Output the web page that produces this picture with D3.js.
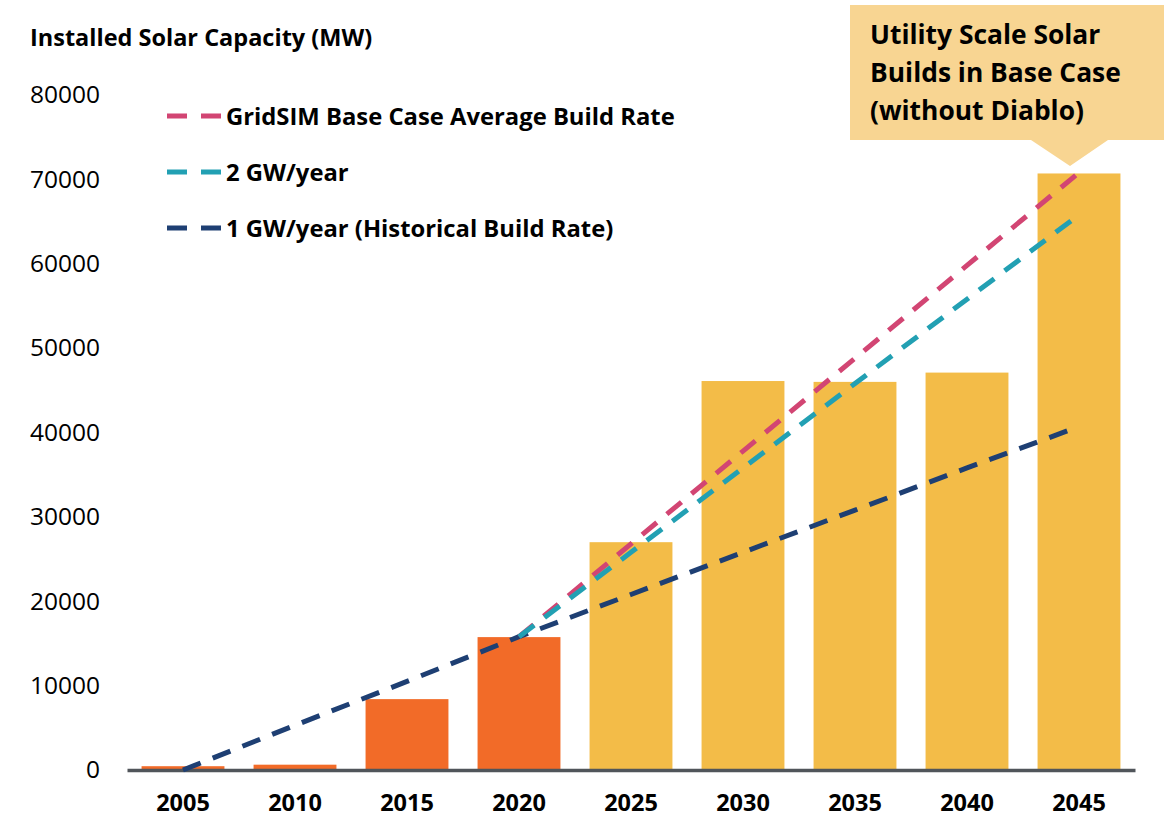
<!DOCTYPE html>
<html>
<head>
<meta charset="utf-8">
<script src="https://cdn.jsdelivr.net/npm/d3@7"></script>
<style>
  body { margin: 0; background: #fff; }
  svg text { font-family: "Open Sans", Lato, sans-serif; }
</style>
</head>
<body>
<div class="chart"></div>
<script>
// data
var years = ["2005", "2010", "2015", "2020", "2025", "2030", "2035", "2040", "2045"];
var capacity = [450, 630, 8400, 15750, 27000, 46100, 46000, 47100, 70700];
var historical = ["2005", "2010", "2015", "2020"];   // orange bars, rest are base case builds
var yTicks = [0, 10000, 20000, 30000, 40000, 50000, 60000, 70000, 80000];

var lineYears = ["2005", "2010", "2015", "2020", "2025", "2030", "2035", "2040", "2045"];
var oneGW = [0, 5300, 10500, 15800, 20800, 25800, 30800, 35800, 40700];
var trendYears = ["2020", "2025", "2030", "2035", "2040", "2045"];
var twoGW = [15800, 25800, 35800, 45800, 55800, 65800];
var gridsim = [15800, 26800, 37800, 48800, 59800, 70800];

var legendLabels = ["GridSIM Base Case Average Build Rate", "2 GW/year", "1 GW/year (Historical Build Rate)"];
var calloutLines = ["Utility Scale Solar", "Builds in Base Case", "(without Diablo)"];

var svgWidth = 1164, svgHeight = 819;

var svg = d3.select(".chart")
  .append("svg")
  .attr("width", svgWidth)
  .attr("height", svgHeight);

var xScale = d3.scaleBand()
  .domain(years)
  .range([127, 1135])
  .paddingInner(0.26)
  .paddingOuter(0.13);

var yScale = d3.scaleLinear()
  .domain([0, 80000])
  .range([770, 95]);

// y axis title
svg.append("text")
  .attr("x", 30)
  .attr("y", 46)
  .attr("font-size", 23.5)
  .attr("font-weight", "bold")
  .attr("fill", "#000")
  .text("Installed Solar Capacity (MW)");

// y tick labels (no axis line)
var yAxis = d3.axisLeft(yScale).tickValues(yTicks).tickSize(0).tickPadding(0).tickFormat(d3.format("d"));
var yG = svg.append("g")
  .attr("transform", "translate(100,0)")
  .call(yAxis);
yG.select(".domain").remove();
yG.selectAll("text")
  .attr("font-size", 24.5)
  .attr("fill", "#000")
  .style("font-family", "'Open Sans', Lato, sans-serif");

// bars
svg.append("g").selectAll("rect")
  .data(years)
  .enter()
  .append("rect")
  .attr("x", d => xScale(d))
  .attr("width", xScale.bandwidth())
  .attr("y", (d, i) => yScale(capacity[i]))
  .attr("height", (d, i) => yScale(0) - yScale(capacity[i]))
  .attr("fill", d => historical.indexOf(d) >= 0 ? "#F26B28" : "#F3BC48");

// x axis
var xAxis = d3.axisBottom(xScale).tickSize(0).tickPadding(0);
var xG = svg.append("g")
  .attr("transform", "translate(0," + yScale(0) + ")")
  .call(xAxis);
xG.select(".domain")
  .attr("stroke", "#50555A")
  .attr("stroke-width", 3.5);
xG.selectAll("text")
  .attr("dy", 0)
  .attr("y", 41)
  .attr("font-size", 23.5)
  .attr("font-weight", "bold")
  .attr("fill", "#000")
  .style("font-family", "'Open Sans', Lato, sans-serif");

// dashed build-rate lines
var cx = d => xScale(d) + xScale.bandwidth() / 2;
var line = d3.line()
  .x(d => cx(d[0]))
  .y(d => yScale(d[1]));

var series = [
  { pts: d3.zip(lineYears, oneGW), color: "#1E3F73" },
  { pts: d3.zip(trendYears, twoGW), color: "#22A0B3" },
  { pts: d3.zip(trendYears, gridsim), color: "#D24573" }
];
// draw order: navy, pink, teal (teal sits on top where they overlap)
[series[0], series[2], series[1]].forEach(function (s) {
  svg.append("path")
    .datum(s.pts)
    .attr("d", line)
    .attr("fill", "none")
    .attr("stroke", s.color)
    .attr("stroke-width", 5)
    .attr("stroke-dasharray", "19,13");
});

// legend
var legendColors = ["#D24573", "#22A0B3", "#1E3F73"];
legendLabels.forEach(function (lab, i) {
  var ly = 116 + i * 56;
  var g = svg.append("g");
  g.append("line")
    .attr("x1", 167).attr("x2", 222)
    .attr("y1", ly).attr("y2", ly)
    .attr("stroke", legendColors[i])
    .attr("stroke-width", 5)
    .attr("stroke-dasharray", "20,14");
  g.append("text")
    .attr("x", 226)
    .attr("y", ly + 9)
    .attr("font-size", 23.8)
    .attr("font-weight", "bold")
    .attr("fill", "#000")
    .text(lab);
});

// callout box
var box = svg.append("g");
box.append("path")
  .attr("d", "M850,5 H1164 V140 H1108 L1070,166 L1031,140 H850 Z")
  .attr("fill", "#F8D592");
calloutLines.forEach(function (t, i) {
  box.append("text")
    .attr("x", 870)
    .attr("y", 44 + i * 38)
    .attr("font-size", 26.4)
    .attr("font-weight", "bold")
    .attr("fill", "#000")
    .text(t);
});
</script>
</body>
</html>
